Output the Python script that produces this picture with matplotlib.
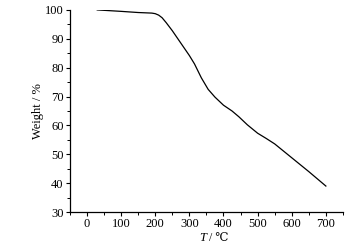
import matplotlib
matplotlib.use("Agg")
import matplotlib.pyplot as plt
from matplotlib.ticker import MultipleLocator

plt.rcParams['font.family'] = ['Liberation Serif', 'DejaVu Serif', 'DejaVu Sans']

# TGA curve
temp = [30, 100, 150, 190, 200, 210, 220, 232, 250, 275, 300, 315, 335, 355,
        375, 400, 425, 445, 470, 500, 525, 550, 600, 650, 700]
weight = [100.0, 99.5, 99.1, 98.9, 98.7, 98.2, 97.3, 95.6, 92.8, 88.5, 84.2,
          81.3, 76.5, 72.5, 69.8, 67.0, 65.0, 63.0, 60.2, 57.3, 55.5, 53.6,
          48.8, 44.0, 39.0]

fig = plt.figure(figsize=(3.55, 2.48), dpi=100)
ax = fig.add_axes([0.197, 0.145, 0.769, 0.815])
ax.plot(temp, weight, color='black', linewidth=0.9)

ax.set_xlim(-50, 750)
ax.set_ylim(30, 100)
ax.xaxis.set_major_locator(MultipleLocator(100))
ax.xaxis.set_minor_locator(MultipleLocator(50))
ax.yaxis.set_major_locator(MultipleLocator(10))
ax.yaxis.set_minor_locator(MultipleLocator(5))
ax.set_xticks(range(0, 800, 100))

ax.spines['top'].set_visible(False)
ax.spines['right'].set_visible(False)
for s in ('left', 'bottom'):
    ax.spines[s].set_linewidth(0.9)
ax.tick_params(which='major', direction='out', length=3, width=0.8, labelsize=9, pad=1.5)
ax.tick_params(which='minor', direction='out', length=2, width=0.7)

ax.set_ylabel('Weight / %', fontsize=9, labelpad=1)

# x label: italic T followed by " / ℃"
ax.text(0.5, -0.10, 'T', transform=ax.transAxes, fontsize=9, style='italic',
        ha='right', va='top')
ax.text(0.5, -0.10, ' / ℃', transform=ax.transAxes, fontsize=8.5,
        ha='left', va='top')

fig.savefig('out.png', dpi=100)
